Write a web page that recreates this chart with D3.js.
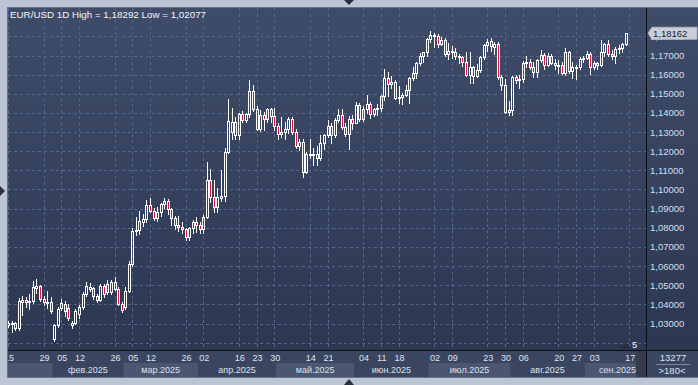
<!DOCTYPE html>
<html>
<head>
<meta charset="utf-8">
<script src="https://cdn.jsdelivr.net/npm/d3@7"></script>
<style>
  body { margin: 0; background: #bcc5d3; }
  svg { display: block; font-family: "Liberation Sans", Arial, sans-serif; }
</style>
</head>
<body>
<svg id="chart" width="698" height="385"></svg>
<script>
// daily candles [open, high, low, close], one array per month
const jan = [ // 15 .. 31
  [1.0292,1.0315,1.0280,1.0305],[1.0295,1.0312,1.0253,1.0302],[1.0302,1.0308,1.0265,1.0276],
  [1.0276,1.0435,1.0268,1.0415],[1.0410,1.0445,1.0345,1.0425],[1.0425,1.0440,1.0385,1.0410],
  [1.0410,1.0455,1.0375,1.0418],[1.0418,1.0520,1.0405,1.0490],[1.0485,1.0532,1.0460,1.0495],
  [1.0495,1.0500,1.0420,1.0430],[1.0430,1.0445,1.0395,1.0410],[1.0405,1.0468,1.0380,1.0412],
  [1.0410,1.0440,1.0355,1.0365]
]
const feb = [
  [1.0220,1.0300,1.0208,1.0290],[1.0290,1.0385,1.0280,1.0375],[1.0382,1.0430,1.0370,1.0405],
  [1.0402,1.0418,1.0340,1.0365],[1.0380,1.0400,1.0318,1.0330],[1.0292,1.0315,1.0278,1.0305],
  [1.0305,1.0375,1.0298,1.0367],[1.0350,1.0395,1.0330,1.0388],[1.0385,1.0465,1.0375,1.0455],
  [1.0455,1.0515,1.0445,1.0498],[1.0482,1.0510,1.0470,1.0490],[1.0488,1.0492,1.0430,1.0445],
  [1.0445,1.0455,1.0410,1.0422],[1.0422,1.0505,1.0415,1.0498],[1.0498,1.0505,1.0440,1.0455],
  [1.0505,1.0528,1.0455,1.0462],[1.0462,1.0528,1.0455,1.0515],[1.0515,1.0545,1.0475,1.0482],
  [1.0482,1.0490,1.0395,1.0402],[1.0402,1.0410,1.0358,1.0368]
]
const mar = [
  [1.0385,1.0492,1.0375,1.0470],[1.0470,1.0628,1.0462,1.0612],[1.0612,1.0800,1.0600,1.0785],
  [1.0785,1.0855,1.0760,1.0790],[1.0788,1.0888,1.0765,1.0835],[1.0830,1.0870,1.0810,1.0845],
  [1.0845,1.0947,1.0830,1.0918],[1.0918,1.0955,1.0880,1.0890],[1.0890,1.0905,1.0840,1.0852],
  [1.0852,1.0906,1.0835,1.0882],[1.0882,1.0930,1.0860,1.0922],[1.0922,1.0955,1.0905,1.0942],
  [1.0942,1.0950,1.0870,1.0900],[1.0900,1.0905,1.0815,1.0852],[1.0852,1.0860,1.0795,1.0815],
  [1.0815,1.0860,1.0785,1.0802],[1.0802,1.0830,1.0775,1.0792],[1.0792,1.0800,1.0735,1.0753],
  [1.0753,1.0805,1.0735,1.0800],[1.0800,1.0840,1.0775,1.0830],[1.0830,1.0855,1.0780,1.0816]
]
const apr = [
  [1.0816,1.0830,1.0775,1.0792],[1.0792,1.0865,1.0775,1.0855],[1.0855,1.1144,1.0850,1.1050],
  [1.1050,1.1107,1.0935,1.0960],[1.0960,1.1050,1.0880,1.0910],[1.0910,1.1010,1.0880,1.0960],
  [1.0955,1.1100,1.0940,1.0965],[1.0965,1.1215,1.0940,1.1195],[1.1195,1.1473,1.1190,1.1357],
  [1.1300,1.1424,1.1265,1.1350],[1.1350,1.1380,1.1265,1.1285],[1.1285,1.1400,1.1265,1.1397],
  [1.1397,1.1410,1.1355,1.1365],[1.1365,1.1400,1.1355,1.1393],[1.1393,1.1573,1.1380,1.1514],
  [1.1514,1.1545,1.1410,1.1420],[1.1420,1.1435,1.1310,1.1315],[1.1315,1.1415,1.1305,1.1387],
  [1.1387,1.1405,1.1310,1.1366],[1.1366,1.1425,1.1350,1.1420],[1.1420,1.1425,1.1355,1.1385],
  [1.1385,1.1425,1.1310,1.1330]
]
const may = [
  [1.1330,1.1345,1.1265,1.1290],[1.1290,1.1380,1.1275,1.1300],[1.1300,1.1355,1.1265,1.1314],
  [1.1314,1.1380,1.1295,1.1369],[1.1369,1.1380,1.1290,1.1302],[1.1302,1.1315,1.1215,1.1225],
  [1.1225,1.1265,1.1205,1.1250],[1.1250,1.1265,1.1065,1.1090],[1.1090,1.1195,1.1085,1.1188],
  [1.1178,1.1265,1.1165,1.1186],[1.1180,1.1215,1.1130,1.1187],[1.1187,1.1225,1.1130,1.1163],
  [1.1163,1.1285,1.1155,1.1243],[1.1243,1.1290,1.1210,1.1283],[1.1283,1.1365,1.1275,1.1330],
  [1.1330,1.1345,1.1245,1.1283],[1.1283,1.1375,1.1275,1.1363],[1.1363,1.1420,1.1355,1.1387],
  [1.1387,1.1418,1.1317,1.1327],[1.1327,1.1345,1.1280,1.1290],[1.1290,1.1385,1.1210,1.1370],
  [1.1370,1.1390,1.1315,1.1347]
]
const jun = [
  [1.1347,1.1455,1.1345,1.1443],[1.1443,1.1450,1.1357,1.1370],[1.1370,1.1435,1.1360,1.1418],
  [1.1418,1.1495,1.1400,1.1446],[1.1446,1.1455,1.1372,1.1397],[1.1397,1.1425,1.1385,1.1420],
  [1.1420,1.1445,1.1390,1.1424],[1.1424,1.1495,1.1410,1.1488],[1.1488,1.1631,1.1465,1.1585],
  [1.1585,1.1615,1.1490,1.1550],[1.1550,1.1595,1.1530,1.1560],[1.1560,1.1570,1.1475,1.1480],
  [1.1478,1.1540,1.1450,1.1482],[1.1482,1.1505,1.1445,1.1495],[1.1495,1.1545,1.1490,1.1520],
  [1.1520,1.1590,1.1450,1.1580],[1.1580,1.1640,1.1570,1.1610],[1.1610,1.1665,1.1585,1.1662],
  [1.1662,1.1715,1.1650,1.1700],[1.1700,1.1720,1.1665,1.1718],[1.1718,1.1790,1.1700,1.1787]
]
const jul = [
  [1.1787,1.1829,1.1770,1.1805],[1.1805,1.1815,1.1745,1.1800],[1.1800,1.1810,1.1745,1.1760],
  [1.1760,1.1795,1.1755,1.1780],[1.1780,1.1790,1.1700,1.1710],[1.1710,1.1765,1.1680,1.1725],
  [1.1725,1.1750,1.1685,1.1718],[1.1718,1.1740,1.1680,1.1700],[1.1700,1.1710,1.1660,1.1690],
  [1.1690,1.1700,1.1645,1.1665],[1.1665,1.1720,1.1595,1.1600],[1.1600,1.1720,1.1555,1.1640],
  [1.1640,1.1645,1.1555,1.1595],[1.1595,1.1655,1.1590,1.1625],[1.1625,1.1700,1.1615,1.1690],
  [1.1690,1.1760,1.1680,1.1755],[1.1755,1.1788,1.1725,1.1772],[1.1775,1.1790,1.1725,1.1748],
  [1.1745,1.1770,1.1710,1.1762],[1.1760,1.1770,1.1575,1.1590],[1.1590,1.1600,1.1520,1.1545],
  [1.1545,1.1575,1.1400,1.1405],[1.1405,1.1460,1.1390,1.1415]
]
const aug = [
  [1.1415,1.1595,1.1390,1.1590],[1.1590,1.1600,1.1555,1.1570],[1.1570,1.1600,1.1530,1.1575],
  [1.1575,1.1670,1.1560,1.1660],[1.1660,1.1700,1.1640,1.1665],[1.1665,1.1680,1.1630,1.1640],
  [1.1640,1.1665,1.1590,1.1615],[1.1615,1.1680,1.1590,1.1675],[1.1675,1.1730,1.1665,1.1705],
  [1.1705,1.1715,1.1630,1.1650],[1.1650,1.1715,1.1645,1.1700],[1.1700,1.1710,1.1655,1.1660],
  [1.1660,1.1680,1.1630,1.1650],[1.1648,1.1675,1.1610,1.1652],[1.1652,1.1665,1.1605,1.1610],
  [1.1610,1.1740,1.1600,1.1720],[1.1720,1.1725,1.1610,1.1620],[1.1620,1.1665,1.1585,1.1640],
  [1.1635,1.1650,1.1575,1.1642],[1.1642,1.1690,1.1630,1.1680],[1.1680,1.1700,1.1665,1.1685]
]
const sep = [ // 1 .. 16
  [1.1685,1.1725,1.1680,1.1710],[1.1710,1.1720,1.1605,1.1640],[1.1640,1.1670,1.1630,1.1660],
  [1.1660,1.1665,1.1630,1.1650],[1.1650,1.1780,1.1645,1.1720],[1.1720,1.1765,1.1700,1.1760],
  [1.1760,1.1780,1.1700,1.1710],[1.1710,1.1728,1.1680,1.1695],[1.1695,1.1745,1.1660,1.1735],
  [1.1735,1.1755,1.1715,1.1738],[1.1738,1.1765,1.1720,1.1760],[1.1760,1.1818,1.1755,1.1816]
]

const monthNames = ['янв.', 'фев.', 'мар.', 'апр.', 'май.', 'июн.', 'июл.', 'авг.', 'сен.']
const dayTicks = ['2025-01-15', '2025-01-29', '2025-02-05', '2025-02-12', '2025-02-26',
  '2025-03-05', '2025-03-12', '2025-03-26', '2025-04-02', '2025-04-16', '2025-04-23',
  '2025-04-30', '2025-05-14', '2025-05-21', '2025-06-04', '2025-06-11', '2025-06-18',
  '2025-07-02', '2025-07-09', '2025-07-23', '2025-07-30', '2025-08-06', '2025-08-20',
  '2025-08-27', '2025-09-03', '2025-09-17']
const priceTicks = [1.03, 1.04, 1.05, 1.06, 1.07, 1.08, 1.09, 1.10, 1.11, 1.12,
  1.13, 1.14, 1.15, 1.16, 1.17, 1.18]
const lastPrice = 1.18162

// trading calendar (weekdays) the candles sit on
function weekdays(from, to) {
  let out = []
  for (let d = new Date(from + 'T00:00:00Z'); d <= new Date(to + 'T00:00:00Z'); d.setUTCDate(d.getUTCDate() + 1)) {
    let w = d.getUTCDay()
    if (w > 0 && w < 6) out.push(d.toISOString().slice(0, 10))
  }
  return out
}
const days = weekdays('2025-01-15', '2025-09-30')
const candles = [jan, feb, mar, apr, may, jun, jul, aug, sep].flat()
  .map((d, i) => ({ i: i, o: d[0], h: d[1], l: d[2], c: d[3] }))

const PL = 8, PT = 8, PR = 646, PB = 350, AB = 377, W = 698
const fmt = v => d3.format('.5f')(v).replace('.', ',')

let x = d3.scaleLinear().domain([0, candles.length - 1]).range([8, 625.7])
let y = d3.scaleLinear().domain([1.03, 1.17]).range([323.5, 55.5])
let step = x(1) - x(0)

let svg = d3.select('#chart')
let defs = svg.append('defs')
let grad = defs.append('linearGradient').attr('id', 'bg')
  .attr('x1', 0).attr('y1', 0).attr('x2', 0).attr('y2', 1)
grad.append('stop').attr('offset', '0%').attr('stop-color', '#3f4c69')
grad.append('stop').attr('offset', '100%').attr('stop-color', '#2c3852')
defs.append('clipPath').attr('id', 'plotClip').append('rect')
  .attr('x', PL).attr('y', PT).attr('width', PR - PL).attr('height', PB - PT)
defs.append('clipPath').attr('id', 'axisClip').append('rect')
  .attr('x', PL).attr('y', PB).attr('width', PR - PL).attr('height', AB - PB)

// frame and panels
svg.append('rect').attr('width', W).attr('height', 385).attr('fill', '#bcc5d3')
svg.append('rect').attr('x', PL).attr('y', PT).attr('width', W - PL).attr('height', PB - PT)
  .attr('fill', 'url(#bg)')
svg.append('rect').attr('x', PL).attr('y', PB).attr('width', W - PL).attr('height', AB - PB)
  .attr('fill', '#3a4560')

// month bands
let bands = svg.append('g').attr('clip-path', 'url(#axisClip)')
monthNames.forEach(function(name, m) {
  let idx = days.map((d, i) => +d.slice(5, 7) === m + 1 ? i : -1).filter(i => i >= 0)
  let x0 = Math.max(PL, x(idx[0]) - step / 2)
  let x1 = Math.min(636, x(idx[idx.length - 1]) + step / 2)
  if (m % 2 === 0) {
    bands.append('rect').attr('x', x0).attr('y', 363).attr('width', x1 - x0).attr('height', AB - 363)
      .attr('fill', '#4a5672')
  }
  if (m === 0) return
  let t = bands.append('text').attr('y', 373).attr('font-size', 9).attr('fill', '#d9e1ee')
    .attr('text-anchor', 'middle').text(name + '2025')
  let w = t.node().getComputedTextLength()
  let cx = (x(idx[0]) - step / 2 + x(idx[idx.length - 1]) + step / 2) / 2
  cx = Math.min(cx, x1 - w / 2)
  t.attr('x', cx)
})
svg.append('rect').attr('x', 636).attr('y', PB).attr('width', PR - 636).attr('height', AB - PB)
  .attr('fill', '#363c4b')

// grid
let grid = svg.append('g').attr('clip-path', 'url(#plotClip)')
  .attr('stroke', '#56658a').attr('stroke-dasharray', '3,3').attr('stroke-width', 1)
grid.selectAll('.hgrid').data([1.02].concat(priceTicks)).enter().append('line')
  .attr('x1', PL).attr('x2', PR)
  .attr('y1', d => Math.round(y(d)) + 0.5).attr('y2', d => Math.round(y(d)) + 0.5)
grid.selectAll('.vgrid').data(dayTicks).enter().append('line')
  .attr('y1', PT).attr('y2', PB)
  .attr('x1', d => Math.round(x(days.indexOf(d))) + 0.5)
  .attr('x2', d => Math.round(x(days.indexOf(d))) + 0.5)

// candles
let plot = svg.append('g').attr('clip-path', 'url(#plotClip)')
let cg = plot.selectAll('.candle').data(candles).enter().append('g')
cg.append('line')
  .attr('x1', d => Math.round(x(d.i)) + 0.5).attr('x2', d => Math.round(x(d.i)) + 0.5)
  .attr('y1', d => Math.round(y(d.h))).attr('y2', d => Math.round(y(Math.max(d.o, d.c))))
  .attr('stroke', '#fff')
cg.append('line')
  .attr('x1', d => Math.round(x(d.i)) + 0.5).attr('x2', d => Math.round(x(d.i)) + 0.5)
  .attr('y1', d => Math.round(y(Math.min(d.o, d.c))) + 1).attr('y2', d => Math.round(y(d.l)) + 1)
  .attr('stroke', '#fff')
cg.append('rect')
  .attr('x', d => Math.round(x(d.i)) - 0.5)
  .attr('y', d => Math.round(y(Math.max(d.o, d.c))) + 0.5)
  .attr('width', 2)
  .attr('height', d => Math.max(1, Math.round(y(Math.min(d.o, d.c))) - Math.round(y(Math.max(d.o, d.c)))))
  .attr('fill', d => d.c < d.o ? '#e0113d' : 'none')
  .attr('stroke', '#fff')

// day labels
let dayAxis = svg.append('g').attr('clip-path', 'url(#axisClip)')
dayAxis.selectAll('text').data(dayTicks).enter().append('text')
  .attr('x', d => x(days.indexOf(d)) + 1).attr('y', 361)
  .attr('text-anchor', 'middle').attr('font-size', 9).attr('fill', '#dde4f0')
  .text(d => d.slice(8))

// price axis (1,18000 sits under the last-price marker, as in the terminal)
svg.append('g').selectAll('text').data(priceTicks).enter().append('text')
  .attr('x', 650).attr('y', d => y(d) + 3.5)
  .attr('font-size', 9.5).attr('fill', '#d3ddf0')
  .text(fmt)

let ly = y(lastPrice)
svg.append('path')
  .attr('d', `M648,${ly} L652,${ly - 6} L697,${ly - 6} L697,${ly + 6} L652,${ly + 6} Z`)
  .attr('fill', '#c9ced8').attr('stroke', '#aeb4c0')
svg.append('text').attr('x', 653).attr('y', ly + 3.5)
  .attr('font-size', 9.5).attr('fill', '#1b2030').text(fmt(lastPrice))

// separators and border
svg.append('line').attr('x1', PR + 0.5).attr('x2', PR + 0.5).attr('y1', PT).attr('y2', AB)
  .attr('stroke', '#0c0f16')
svg.append('line').attr('x1', PL).attr('x2', W).attr('y1', PB + 0.5).attr('y2', PB + 0.5)
  .attr('stroke', '#0c0f16')
svg.append('rect').attr('x', PL - 0.5).attr('y', PT - 0.5).attr('width', W - PL + 1).attr('height', AB - PT + 1)
  .attr('fill', 'none').attr('stroke', '#6a7489')

// title
svg.append('text').attr('x', 10).attr('y', 18).attr('font-size', 9.8).attr('fill', '#f2f5fa')
  .text('EUR/USD 1D High = 1,18292 Low = 1,02077')

// corner info
svg.append('text').attr('x', 673).attr('y', 361).attr('text-anchor', 'middle')
  .attr('font-size', 9.5).attr('fill', '#dde4f0').text('13277')
svg.append('line').attr('x1', 656).attr('x2', 690).attr('y1', 364.5).attr('y2', 364.5)
  .attr('stroke', '#7d889e')
svg.append('text').attr('x', 672).attr('y', 374).attr('text-anchor', 'middle')
  .attr('font-size', 9.5).attr('fill', '#dde4f0').text('>180<')

// small markers
svg.append('path').attr('d', 'M620,348 L630,348 L627,343 Z').attr('fill', '#262c39')
svg.append('text').attr('x', 632).attr('y', 348).attr('font-size', 9.5).attr('fill', '#eef2f8').text('5')
svg.append('path').attr('d', 'M344,0 L354,0 L349,5 Z').attr('fill', '#2a303d')
svg.append('path').attr('d', 'M344,385 L354,385 L349,379 Z').attr('fill', '#2a303d')
svg.append('path').attr('d', 'M0,186 L0,196 L5,191 Z').attr('fill', '#2a303d')
</script>
</body>
</html>
